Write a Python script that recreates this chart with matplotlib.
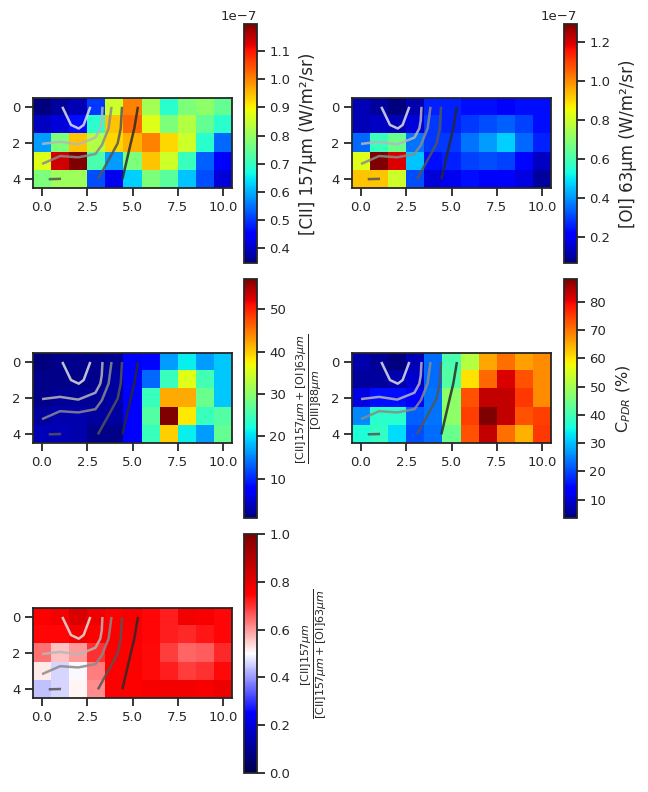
import numpy as np
import matplotlib
matplotlib.use("Agg")
import matplotlib.pyplot as plt

# ---------------- data ----------------
cii = np.array([
    [0.345, 0.371, 0.388, 0.499, 0.857, 1.002, 0.814, 0.686, 0.772, 0.789, 0.746],
    [0.396, 0.413, 0.464, 0.686, 0.942, 1.027, 0.874, 0.772, 0.831, 0.746, 0.686],
    [0.584, 0.772, 0.942, 0.831, 0.925, 0.959, 1.002, 0.925, 0.857, 0.686, 0.541],
    [0.874, 1.138, 1.198, 0.720, 0.584, 0.772, 0.942, 0.857, 0.703, 0.533, 0.447],
    [0.772, 0.806, 0.806, 0.516, 0.430, 0.626, 0.772, 0.737, 0.618, 0.516, 0.413],
]) * 1e-7

oi = np.array([
    [0.129, 0.105, 0.068, 0.117, 0.264, 0.264, 0.240, 0.240, 0.215, 0.240, 0.240],
    [0.129, 0.142, 0.129, 0.166, 0.289, 0.264, 0.289, 0.313, 0.338, 0.301, 0.240],
    [0.350, 0.583, 0.656, 0.362, 0.289, 0.289, 0.362, 0.411, 0.473, 0.350, 0.264],
    [0.828, 1.294, 1.196, 0.460, 0.240, 0.264, 0.301, 0.313, 0.301, 0.227, 0.142],
    [0.926, 0.926, 0.804, 0.313, 0.166, 0.191, 0.240, 0.215, 0.215, 0.178, 0.105],
]) * 1e-7

ratio = np.array([
    [0.73, 1.3, 1.5, 1.6, 1.8, 6.9, 8.1, 16.5, 21.0, 16.5, 18.8],
    [1.3, 1.3, 1.3, 1.4, 2.4, 6.9, 13.7, 24.4, 35.7, 25.0, 18.8],
    [1.3, 1.9, 1.9, 1.9, 2.4, 6.9, 24.4, 41.9, 41.9, 27.8, 18.8],
    [2.4, 3.0, 3.0, 2.4, 2.4, 6.9, 26.1, 57.1, 38.0, 24.4, 26.1],
    [3.5, 3.5, 3.0, 1.3, 1.3, 6.9, 24.4, 39.6, 21.0, 16.5, 27.2],
])

cpdr = np.array([
    [6.9, 5.2, 3.5, 7.7, 23.0, 40.7, 51.7, 65.3, 70.3, 66.1, 67.8],
    [6.0, 6.0, 6.9, 9.4, 23.0, 41.6, 60.2, 71.2, 81.3, 72.9, 67.8],
    [11.1, 15.3, 15.3, 12.8, 23.8, 47.5, 72.9, 83.0, 83.0, 75.4, 67.8],
    [25.5, 37.3, 37.3, 22.1, 23.8, 47.5, 74.6, 88.1, 83.0, 72.9, 74.6],
    [36.5, 38.2, 32.3, 20.4, 23.0, 44.1, 72.9, 83.0, 70.3, 64.4, 75.4],
])

frac = np.array([
    [0.75, 0.77, 0.82, 0.78, 0.75, 0.76, 0.745, 0.72, 0.77, 0.76, 0.745],
    [0.745, 0.745, 0.77, 0.75, 0.755, 0.755, 0.745, 0.72, 0.71, 0.73, 0.745],
    [0.64, 0.56, 0.60, 0.70, 0.75, 0.75, 0.74, 0.69, 0.65, 0.66, 0.71],
    [0.52, 0.46, 0.495, 0.625, 0.75, 0.75, 0.74, 0.72, 0.69, 0.70, 0.74],
    [0.44, 0.46, 0.51, 0.61, 0.75, 0.75, 0.76, 0.77, 0.77, 0.76, 0.78],
])

# contour paths (data coordinates: column, row)
contour_x = [
    [1.12, 1.6, 2.03, 2.3, 2.67],
    [0.0, 1.0, 2.0, 2.95, 3.22, 3.3, 3.34],
    [0.0, 1.0, 2.0, 2.95, 3.31, 3.68, 3.84],
    [3.09, 3.68, 4.18, 4.35, 4.42],
    [4.44, 4.88, 5.10, 5.30],
    [0.37, 1.05],
]
contour_y = [
    [0.0, 1.0, 1.2, 1.0, 0.0],
    [2.05, 1.93, 2.08, 1.7, 1.2, 0.75, 0.0],
    [3.16, 2.72, 2.79, 2.61, 2.11, 1.19, 0.0],
    [4.0, 2.94, 2.02, 1.19, 0.0],
    [4.0, 2.11, 1.19, 0.0],
    [4.0, 3.98],
]
contour_colors = ["#e2e2e2", "#b8b8b8", "#8a8a8a", "#555555", "#2a2a2a", "#555555"]

labels = [
    "[CII] 157\u03bcm (W/m\u00b2/sr)",
    "[OI] 63\u03bcm (W/m\u00b2/sr)",
    r"$\frac{[\mathrm{CII}]157\mu m + [\mathrm{OI}]63\mu m}{[\mathrm{OIII}]88\mu m}$",
    r"C$_{PDR}$ (%)",
    r"$\frac{[\mathrm{CII}]157\mu m}{[\mathrm{CII}]157\mu m + [\mathrm{OI}]63\mu m}$",
]
maps = [cii, oi, ratio, cpdr, frac]
cmaps = ["jet", "jet", "jet", "jet", "seismic"]
limits = [None, None, None, None, (0, 1)]

# ---------------- layout ----------------
W, H = 648, 792
fig = plt.figure(figsize=(6.48, 7.92), dpi=100)

ink = "#262626"
plt.rcParams.update({
    "font.size": 9,
    "xtick.color": ink, "ytick.color": ink,
    "xtick.labelcolor": ink, "ytick.labelcolor": ink,
})

col_left = [33, 352]
cb_left = [243.5, 563.5]
ax_rows = [(97, 189), (352.3, 444), (607.3, 699)]
cb_rows = [(24, 263), (279, 518), (534, 773)]

def rect(x0, y0, x1, y1):
    return [x0 / W, 1 - y1 / H, (x1 - x0) / W, (y1 - y0) / H]

for i, data in enumerate(maps):
    r, c = divmod(i, 2)
    ax = fig.add_axes(rect(col_left[c], ax_rows[r][0], col_left[c] + 199, ax_rows[r][1]))
    kw = {}
    if limits[i] is not None:
        kw = dict(vmin=limits[i][0], vmax=limits[i][1])
    im = ax.imshow(data, cmap=cmaps[i], origin="upper", aspect="equal",
                   interpolation="nearest", **kw)
    for xs, ys, col in zip(contour_x, contour_y, contour_colors):
        ax.plot(xs, ys, color=col, lw=1.8, alpha=0.85, solid_capstyle="butt")
    ax.set_xlim(-0.5, 10.5)
    ax.set_ylim(4.5, -0.5)
    ax.set_xticks([0, 2.5, 5, 7.5, 10])
    ax.set_xticklabels(["0.0", "2.5", "5.0", "7.5", "10.0"])
    ax.set_yticks([0, 2, 4])
    ax.tick_params(length=6, width=1.3, labelsize=9.5, pad=3)
    for s in ax.spines.values():
        s.set_linewidth(1.3)
        s.set_color(ink)

    cax = fig.add_axes(rect(cb_left[c], cb_rows[r][0], cb_left[c] + 13.5, cb_rows[r][1]))
    cb = fig.colorbar(im, cax=cax)
    cb.outline.set_linewidth(1.3)
    cb.outline.set_edgecolor(ink)
    cax.tick_params(length=6, width=1.3, labelsize=9.5, pad=3)
    cb.ax.yaxis.get_offset_text().set_fontsize(9.5)
    cb.set_label(labels[i], fontsize=12 if i in (0, 1) else 11.5, color=ink, labelpad=6)

fig.savefig("out.png", dpi=100)
